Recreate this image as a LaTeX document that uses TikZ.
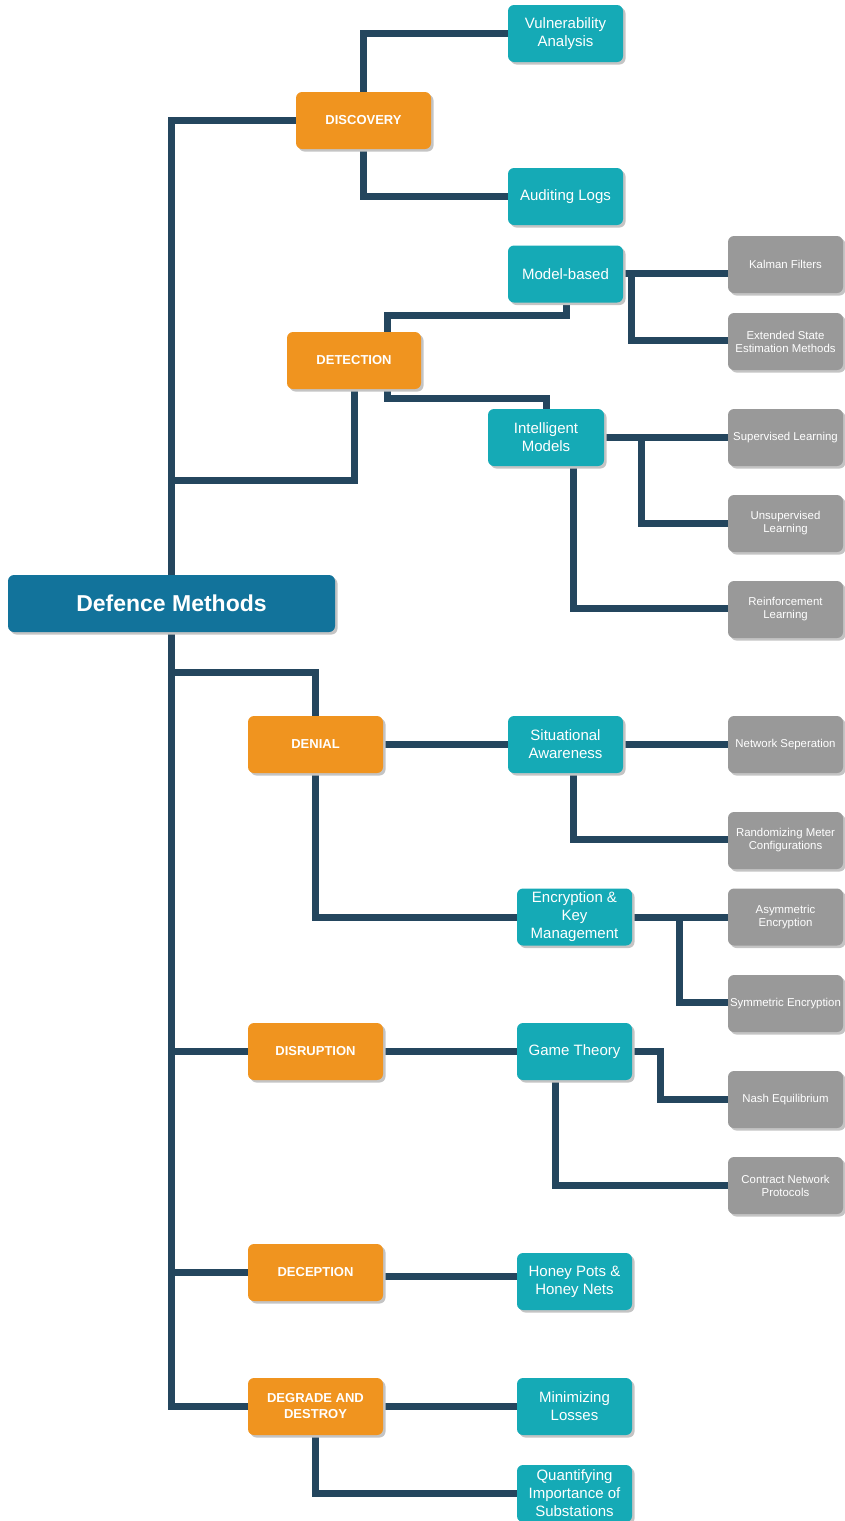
\documentclass[tikz,border=0pt]{standalone}
\usepackage{fontspec}
\setmainfont{Liberation Sans}
\usetikzlibrary{shadows,backgrounds}
\definecolor{rootblue}{HTML}{12739B}
\definecolor{catorange}{HTML}{F0941F}
\definecolor{subteal}{HTML}{15AAB6}
\definecolor{leafgray}{HTML}{999999}
\definecolor{wire}{HTML}{24465E}
\definecolor{shade}{HTML}{C4C4C4}
\tikzset{
  box/.style={rounded corners=6pt, text=white, align=center, inner sep=0pt,
    minimum height=57pt,
    drop shadow={shadow xshift=2.5pt, shadow yshift=-2.5pt, fill=shade, opacity=1}},
  rootbox/.style={box, fill=rootblue, minimum width=327pt,
    font=\fontsize{23}{26}\selectfont\bfseries},
  catbox/.style={box, fill=catorange, minimum width=135pt,
    font=\fontsize{13}{16}\selectfont\bfseries},
  subbox/.style={box, fill=subteal, minimum width=115pt,
    font=\fontsize{15}{18}\selectfont},
  leafbox/.style={box, fill=leafgray, minimum width=115pt,
    font=\fontsize{11.4}{13}\selectfont},
  conn/.style={draw=wire, line width=7pt, line join=miter}
}
\begin{document}
\begin{tikzpicture}[x=1pt, y=-1pt]
\useasboundingbox (0,0) rectangle (844,1521);

% root
\node[rootbox] (root) at (171.5,603.5) {Defence Methods};

% categories
\node[catbox] (disc) at (363.5,120.5) {DISCOVERY};
\node[catbox, minimum width=134pt] (det) at (354,360.5) {DETECTION};
\node[catbox] (den) at (315.5,744.5) {DENIAL};
\node[catbox] (dis) at (315.5,1051.5) {DISRUPTION};
\node[catbox] (dec) at (315.5,1272.5) {DECEPTION};
\node[catbox] (deg) at (315.5,1406.5) {DEGRADE AND\\DESTROY};

% methods
\node[subbox] (vuln) at (565.5,33.5) {Vulnerability\\Analysis};
\node[subbox] (aud) at (565.5,196.5) {Auditing Logs};
\node[subbox] (mb) at (565.5,274) {Model-based};
\node[subbox, minimum width=116pt] (im) at (546,437.5) {Intelligent\\Models};
\node[subbox] (sa) at (565.5,744.5) {Situational\\Awareness};
\node[subbox] (enc) at (574.5,917) {Encryption \&\\Key\\Management};
\node[subbox] (gt) at (574.5,1051.5) {Game Theory};
\node[subbox] (hp) at (574.5,1281.5) {Honey Pots \&\\Honey Nets};
\node[subbox] (mini) at (574.5,1406.5) {Minimizing\\Losses};
\node[subbox] (quant) at (574.5,1493.5) {Quantifying\\Importance of\\Substations};

% techniques
\node[leafbox] (kal) at (785.5,264.5) {Kalman Filters};
\node[leafbox] (esm) at (785.5,341.5) {Extended State\\Estimation Methods};
\node[leafbox] (sup) at (785.5,437.5) {Supervised Learning};
\node[leafbox] (uns) at (785.5,523.5) {Unsupervised\\Learning};
\node[leafbox] (rl) at (785.5,609.5) {Reinforcement\\Learning};
\node[leafbox] (nw) at (785.5,744.5) {Network Seperation};
\node[leafbox] (rnd) at (785.5,840.5) {Randomizing Meter\\Configurations};
\node[leafbox] (asym) at (785.5,917) {Asymmetric\\Encryption};
\node[leafbox] (sym) at (785.5,1003.5) {Symmetric Encryption};
\node[leafbox] (nash) at (785.5,1099.5) {Nash Equilibrium};
\node[leafbox] (con) at (785.5,1185.5) {Contract Network\\Protocols};

\begin{scope}[on background layer]
  % trunk
  \draw[conn] (disc.west) -| (root.north);
  \draw[conn] (root.south) |- (deg.west);
  \draw[conn] (det.south) -- ++(0,91) -| (root.north);
  \draw[conn] (den.north) -- ++(0,-43) -| (root.south);
  \draw[conn] (dis.west) -- (dis.west -| root.south);
  \draw[conn] (dec.west) -- (dec.west -| root.south);

  % discovery
  \draw[conn] (disc.north) |- (vuln.west);
  \draw[conn] (disc.south) |- (aud.west);

  % detection
  \draw[conn] ([xshift=33pt]det.north) -- ++(0,-16) -| ([xshift=0.5pt]mb.south);
  \draw[conn] ([xshift=33pt]det.south) -- ++(0,9) -| (im.north);
  \draw[conn] ([yshift=0.5pt]mb.east) -- ([yshift=0.5pt]mb.east -| kal.west);
  \draw[conn] ([xshift=8pt]mb.east) |- ([yshift=1.5pt]esm.west);
  \draw[conn] (im.east) -- (sup.west);
  \draw[conn] ([xshift=37pt]im.east) |- (uns.west);
  \draw[conn] ([xshift=27pt]im.south) |- ([yshift=1.5pt]rl.west);

  % denial
  \draw[conn] (den.east) -- (sa.west);
  \draw[conn] (den.south) |- (enc.west);
  \draw[conn] (sa.east) -- (nw.west);
  \draw[conn] ([xshift=8pt]sa.south) |- ([yshift=1.5pt]rnd.west);
  \draw[conn] (enc.east) -- (asym.west);
  \draw[conn] ([xshift=47pt]enc.east) |- ([yshift=1.5pt]sym.west);

  % disruption
  \draw[conn] (dis.east) -- (gt.west);
  \draw[conn] (gt.east) -- ++(28,0) |- (nash.west);
  \draw[conn] ([xshift=-19.5pt]gt.south) |- (con.west);

  % deception
  \draw[conn] ([yshift=-3.5pt]dec.east) -- ([yshift=-3.5pt]dec.east -| hp.west);

  % degrade and destroy
  \draw[conn] (deg.east) -- (mini.west);
  \draw[conn] (deg.south) |- (quant.west);
\end{scope}
\end{tikzpicture}
\end{document}
